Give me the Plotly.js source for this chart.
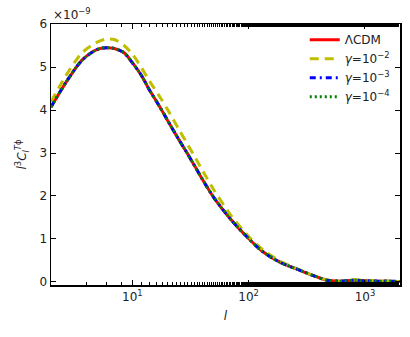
<!DOCTYPE html>
<html>
<head>
<meta charset="utf-8">
<script src="https://cdn.plot.ly/plotly-3.0.1.min.js"></script>
<style>
  html, body { margin: 0; padding: 0; background: white; }
  #graph { width: 410px; height: 337px; }
</style>
</head>
<body>
<div id="graph"></div>
<script>
// multipole l
const ells = [2, 2.7, 3.7, 5, 6, 7, 8.5, 10, 12, 14, 17, 20, 25, 30, 35, 40, 50, 70, 100, 130, 185, 260, 360, 470, 600, 800, 1000, 1300, 1600, 2000];

// l^3 C_l^{T phi} in units of 1e-9
const lcdm = [4.07, 4.65, 5.16, 5.41, 5.45, 5.43, 5.33, 5.10, 4.80, 4.47, 4.10, 3.77, 3.32, 2.97, 2.66, 2.39, 1.97, 1.46, 1.01, 0.72, 0.46, 0.30, 0.15, 0.04, 0.02, 0.04, 0.03, 0.02, 0.02, 0.01];
const gam2 = [4.19, 4.81, 5.33, 5.58, 5.65, 5.64, 5.50, 5.30, 4.98, 4.68, 4.33, 4.02, 3.56, 3.19, 2.88, 2.60, 2.15, 1.56, 1.06, 0.77, 0.49, 0.31, 0.15, 0.05, 0.02, 0.05, 0.04, 0.02, 0.02, 0.01];
const gam3 = [4.07, 4.65, 5.16, 5.41, 5.45, 5.43, 5.33, 5.10, 4.80, 4.47, 4.10, 3.77, 3.32, 2.97, 2.66, 2.39, 1.97, 1.46, 1.01, 0.72, 0.46, 0.30, 0.15, 0.04, 0.02, 0.04, 0.03, 0.02, 0.02, 0.01];
const gam4 = [4.07, 4.65, 5.16, 5.41, 5.45, 5.43, 5.33, 5.10, 4.80, 4.47, 4.10, 3.77, 3.32, 2.97, 2.66, 2.39, 1.97, 1.46, 1.01, 0.72, 0.46, 0.30, 0.15, 0.04, 0.02, 0.04, 0.03, 0.02, 0.02, 0.01];

const xTickVals = [10, 100, 1000];
const xTickText = ['10<sup>1</sup>', '10<sup>2</sup>', '10<sup>3</sup>'];
const yTickVals = [0, 1, 2, 3, 4, 5, 6];

const font = { family: 'DejaVu Sans, sans-serif', size: 12, color: '#222' };

function trace(y, name, color, dash) {
    return {
        x: ells,
        y: y,
        name: name,
        mode: 'lines',
        line: { color: color, width: 3, dash: dash, shape: 'spline', smoothing: 0.8 },
        hoverinfo: 'none',
    };
}

const data = [
    trace(lcdm, 'ΛCDM', '#ff0000', 'solid'),
    trace(gam2, '<i>γ</i>=10<sup>−2</sup>', '#bfbf00', '9px,6px'),
    trace(gam3, '<i>γ</i>=10<sup>−3</sup>', '#0000ff', '6px,4px,2px,4px'),
    trace(gam4, '<i>γ</i>=10<sup>−4</sup>', '#008000', '2px,3px'),
];

const axisCommon = {
    showline: true,
    linecolor: 'black',
    linewidth: 1.5,
    mirror: 'ticks',
    ticks: 'inside',
    ticklen: 5,
    tickcolor: 'black',
    showgrid: false,
    zeroline: false,
};

const layout = {
    width: 410,
    height: 337,
    margin: { l: 51, r: 10, t: 24, b: 52 },
    font: font,
    showlegend: true,
    plot_bgcolor: 'white',
    paper_bgcolor: 'white',
    xaxis: Object.assign({}, axisCommon, {
        type: 'log',
        range: [Math.log10(2), Math.log10(2000)],
        tickvals: xTickVals,
        ticktext: xTickText,
        minor: { ticks: 'inside', ticklen: 3, tickcolor: 'black', showgrid: false },
        title: { text: '<i>l</i>', font: font, standoff: 8 },
    }),
    yaxis: Object.assign({}, axisCommon, {
        range: [-0.07, 6],
        tickvals: yTickVals,
        title: { text: '<i>l</i><sup>3</sup><i>C</i><sub><i>l</i></sub><sup><i>T</i>ϕ</sup>', font: font, standoff: 10 },
    }),
    legend: {
        x: 0.985, y: 0.995,
        xanchor: 'right', yanchor: 'top',
        bgcolor: 'rgba(0,0,0,0)',
        borderwidth: 0,
        font: { family: 'DejaVu Sans, sans-serif', size: 12, color: '#222' },
        tracegroupgap: 0,
    },
    annotations: [{
        text: '×10<sup>−9</sup>',
        xref: 'paper', yref: 'paper',
        x: 0, y: 1,
        xanchor: 'left', yanchor: 'bottom',
        showarrow: false,
        font: font,
    }],
};

Plotly.newPlot('graph', data, layout, { staticPlot: true });
</script>
</body>
</html>
